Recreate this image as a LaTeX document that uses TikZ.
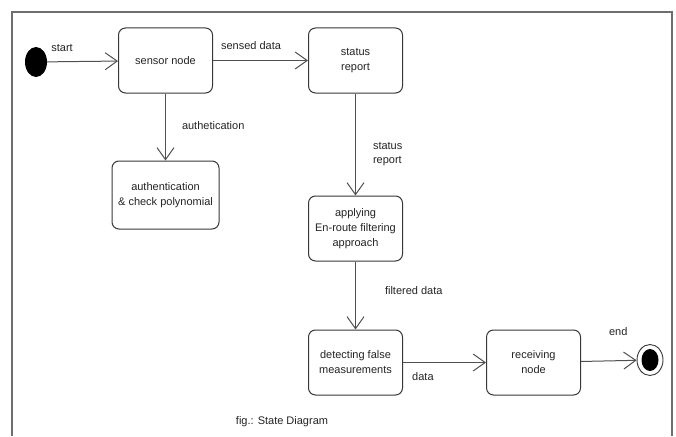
\documentclass[tikz,border=0pt]{standalone}
\usepackage{fontspec}
\setmainfont{Liberation Sans}
\usepackage{tikz}
\usetikzlibrary{arrows.meta, positioning, shapes.geometric}
\definecolor{boxline}{RGB}{55,55,55}
\definecolor{arrowline}{RGB}{80,80,80}
\definecolor{frameline}{RGB}{110,110,110}
\definecolor{labeltext}{RGB}{35,35,35}

\begin{document}
\begin{tikzpicture}[
    x=1pt, y=-1pt,
    >={Straight Barb[length=12pt, width=17pt]},
    statebox/.style={draw=boxline, line width=1pt, rounded corners=7pt, minimum width=94pt, minimum height=65pt, align=center, inner sep=2pt, font=\fontsize{11}{15}\selectfont, text=labeltext},
    trans/.style={->, line width=1pt, arrowline},
    lbl/.style={font=\fontsize{11}{14}\selectfont, text=labeltext, align=left, inner sep=1pt},
]
    \useasboundingbox (0,0) rectangle (676,436);
    \draw[frameline, line width=1.3pt] (12,436) -- (12,12) -- (672,12) -- (672,436);

    \node[ellipse, fill=black, minimum width=22pt, minimum height=30pt, inner sep=0pt] (start) at (36,62) {};
    \node[statebox] (sensor) at (165.5,60.5) {sensor node};
    \node[statebox, right=95pt of sensor] (status) {status\\report};
    \node[statebox, below=67pt of sensor, minimum width=107pt, minimum height=68pt] (auth) {authentication\\\& check polynomial};
    \node[statebox, below=102pt of status] (filter) {applying\\En-route filtering\\approach};
    \node[statebox, below=68pt of filter] (detect) {detecting false\\measurements};
    \node[statebox, right=83pt of detect] (receive) {receiving\\node};
    \node[ellipse, draw=boxline, line width=0.9pt, minimum width=26pt, minimum height=31pt, inner sep=0pt] (stop) at (650,360) {};
    \node[ellipse, fill=black, minimum width=17pt, minimum height=22pt, inner sep=0pt] at (stop.center) {};

    \draw[trans] (start) -- node[lbl, pos=0.21, above=9pt] {start} (sensor);
    \draw[trans] (sensor) -- node[lbl, pos=0.4, above=9pt] {sensed data} (status);
    \draw[trans] (sensor) -- node[lbl, pos=0.48, right=15pt] {authetication} (auth);
    \draw[trans] (status) -- node[lbl, pos=0.59, right=16pt] {status\\report} (filter);
    \draw[trans] (filter) -- node[lbl, pos=0.43, right=28pt] {filtered data} (detect);
    \draw[trans] (detect) -- node[lbl, pos=0.24, below=9pt] {data} (receive);
    \draw[trans] (receive) -- node[lbl, pos=0.67, above=24pt] {end} (stop);

    \node[lbl] (caption) at (282,422) {fig.: State Diagram};
\end{tikzpicture}
\end{document}
